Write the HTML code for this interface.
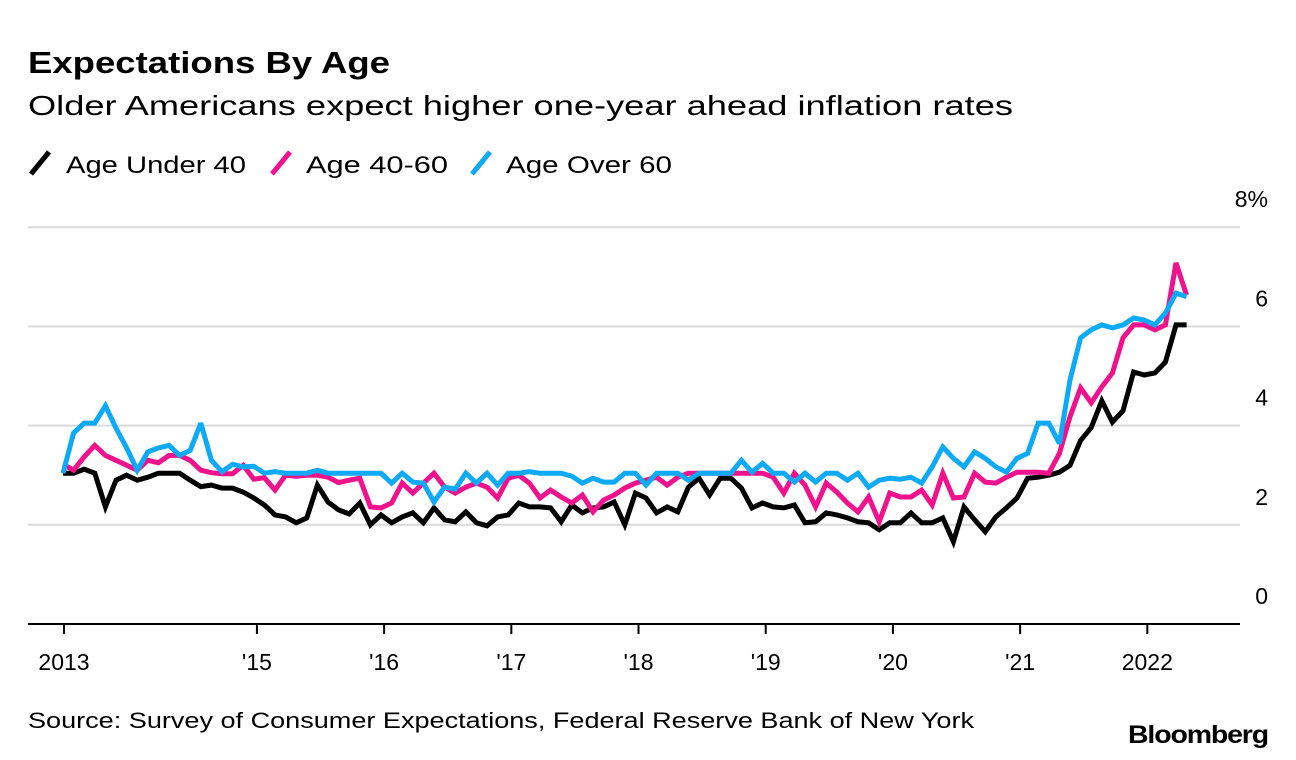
<!DOCTYPE html>
<html><head><meta charset="utf-8"><style>
html,body{margin:0;padding:0;background:#fff;}
svg{display:block;font-family:"Liberation Sans",Arial,sans-serif;}
</style></head><body>
<svg id="chart" width="1296" height="760" viewBox="0 0 1296 760" xmlns="http://www.w3.org/2000/svg">
<text x="28" y="73" font-size="31" font-weight="bold" textLength="362" lengthAdjust="spacingAndGlyphs">Expectations By Age</text>
<text x="28" y="115" font-size="28" textLength="985" lengthAdjust="spacingAndGlyphs">Older Americans expect higher one-year ahead inflation rates</text>
<g>
<line x1="31" y1="174" x2="49" y2="152" stroke="#000" stroke-width="5"/>
<text x="66" y="173" font-size="24" textLength="180" lengthAdjust="spacingAndGlyphs">Age Under 40</text>
<line x1="272" y1="174" x2="290" y2="152" stroke="#f0118c" stroke-width="5"/>
<text x="306" y="173" font-size="24" textLength="142" lengthAdjust="spacingAndGlyphs">Age 40-60</text>
<line x1="472" y1="174" x2="490" y2="152" stroke="#0eaaf5" stroke-width="5"/>
<text x="506" y="173" font-size="24" textLength="166" lengthAdjust="spacingAndGlyphs">Age Over 60</text>
</g>
<g id="grid"></g>
<g id="yaxis"></g>
<g id="xaxis"></g>
<g id="series"></g>
<text x="28" y="728" font-size="22" textLength="946" lengthAdjust="spacingAndGlyphs">Source: Survey of Consumer Expectations, Federal Reserve Bank of New York</text>
<text x="1268" y="743" font-size="25" font-weight="bold" text-anchor="end" textLength="140" lengthAdjust="spacingAndGlyphs" letter-spacing="-1">Bloomberg</text>
</svg>
<script>
const under40 = [3.04,3.04,3.12,3.04,2.36,2.9,3.0,2.9,2.96,3.04,3.04,3.04,2.9,2.77,2.8,2.74,2.74,2.66,2.54,2.4,2.2,2.16,2.04,2.14,2.8,2.46,2.3,2.22,2.44,2.0,2.2,2.04,2.16,2.24,2.04,2.34,2.1,2.06,2.26,2.04,1.98,2.16,2.2,2.44,2.36,2.36,2.34,2.06,2.4,2.24,2.34,2.36,2.46,2.0,2.64,2.54,2.24,2.36,2.26,2.76,2.94,2.6,2.94,2.94,2.74,2.34,2.44,2.36,2.34,2.4,2.04,2.06,2.24,2.2,2.14,2.06,2.04,1.9,2.04,2.04,2.24,2.04,2.04,2.14,1.66,2.36,2.1,1.86,2.16,2.34,2.54,2.94,2.96,3.0,3.06,3.2,3.7,3.96,4.5,4.07,4.3,5.08,5.02,5.06,5.28,6.03,6.03];
const age40to60 = [3.22,3.1,3.37,3.6,3.4,3.3,3.2,3.1,3.3,3.25,3.4,3.4,3.3,3.1,3.05,3.03,3.03,3.2,2.92,2.95,2.7,3.0,2.98,3.0,3.0,2.96,2.85,2.9,2.94,2.36,2.34,2.44,2.84,2.64,2.84,3.04,2.76,2.64,2.76,2.84,2.76,2.54,2.94,3.0,2.84,2.54,2.7,2.56,2.44,2.6,2.26,2.5,2.6,2.74,2.84,2.9,2.96,2.8,2.96,3.04,3.04,3.04,3.04,3.04,3.04,3.04,3.04,2.96,2.64,3.04,2.8,2.36,2.84,2.66,2.44,2.26,2.56,2.06,2.64,2.56,2.56,2.7,2.4,3.04,2.54,2.56,3.04,2.86,2.84,2.96,3.06,3.06,3.06,3.04,3.44,4.18,4.76,4.46,4.78,5.06,5.77,6.03,6.03,5.93,6.03,7.28,6.63];
const over60 = [3.04,3.85,4.05,4.05,4.4,3.95,3.55,3.1,3.47,3.55,3.6,3.4,3.5,4.05,3.3,3.07,3.22,3.17,3.18,3.04,3.07,3.04,3.04,3.04,3.1,3.04,3.04,3.04,3.04,3.04,3.04,2.84,3.04,2.86,2.84,2.46,2.76,2.72,3.04,2.84,3.04,2.8,3.04,3.04,3.07,3.04,3.04,3.04,2.98,2.84,2.94,2.86,2.86,3.04,3.04,2.8,3.04,3.04,3.04,2.9,3.04,3.04,3.04,3.04,3.3,3.06,3.24,3.04,3.04,2.86,3.04,2.86,3.04,3.04,2.9,3.04,2.76,2.9,2.94,2.92,2.96,2.84,3.17,3.57,3.34,3.17,3.47,3.34,3.17,3.06,3.34,3.44,4.05,4.05,3.64,4.92,5.77,5.93,6.03,5.97,6.03,6.17,6.13,6.03,6.27,6.67,6.6];
const yTicks = [0,2,4,6,8];
const yTickLabels = ["0","2","4","6","8%"];
const xTickIndex = [0,18.2,30.2,42.2,54.2,66.2,78.2,90.2,102.2];
const xTickLabels = ["2013","'15","'16","'17","'18","'19","'20","'21","2022"];

const NS = "http://www.w3.org/2000/svg";
const X0 = 63, XSTEP = 10.6;
function xScale(i){ return X0 + i*XSTEP; }
function yScale(v){ return 624 - v*49.6; }
function mk(tag, attrs, parent){ const e=document.createElementNS(NS,tag); for(const k in attrs) e.setAttribute(k,attrs[k]); parent.appendChild(e); return e; }

const grid=document.getElementById('grid'), yaxis=document.getElementById('yaxis'), xaxis=document.getElementById('xaxis'), series=document.getElementById('series');
yTicks.forEach((t,k)=>{
  if(t>0){
    const g=mk('line',{x1:28,x2:1240,y1:yScale(t),y2:yScale(t),stroke:'#d9d9d9','stroke-width':2},grid);
    
    
  }
  const tx=mk('text',{x:1268,y:yScale(t)-20,'font-size':23,'text-anchor':'end'},yaxis);
  tx.textContent=yTickLabels[k];
  
  
});
const ax=mk('line',{x1:28,x2:1240,y1:624,y2:624,stroke:'#000','stroke-width':2},xaxis);


xTickIndex.forEach((ti,k)=>{
  const x=xScale(ti)+1;
  const tk=mk('line',{x1:x,x2:x,y1:624,y2:634,stroke:'#000','stroke-width':2},xaxis);
  
  
  const tx=mk('text',{x:x,y:670,'font-size':23,'text-anchor':'middle'},xaxis);
  tx.textContent=xTickLabels[k];
  
  
});
function drawLine(data,color,name){
  const d=data.map((v,i)=>(i?'L':'M')+xScale(i).toFixed(1)+','+yScale(v).toFixed(1)).join('');
  const p=mk('path',{d:d,fill:'none',stroke:color,'stroke-width':5,'stroke-linejoin':'miter','stroke-miterlimit':3},series);
  
  
}
drawLine(under40,'#000000','line-age-under-40');
drawLine(age40to60,'#f0118c','line-age-40-60');
drawLine(over60,'#0eaaf5','line-age-over-60');
</script>
</body></html>
